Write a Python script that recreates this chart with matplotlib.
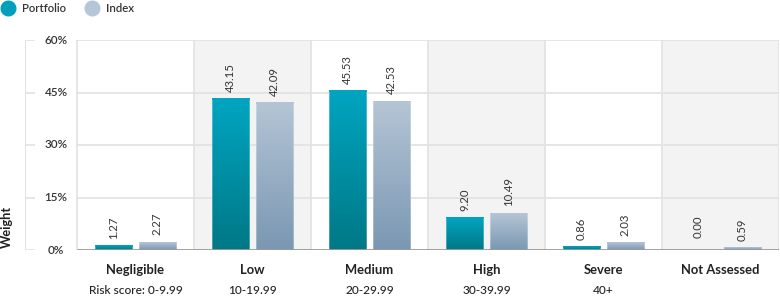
import numpy as np
import matplotlib
matplotlib.use("Agg")
import matplotlib.pyplot as plt
from matplotlib.colors import LinearSegmentedColormap
from matplotlib.lines import Line2D
from matplotlib.transforms import blended_transform_factory

plt.rcParams['font.family'] = ['Lato', 'DejaVu Sans']

categories = ["Negligible", "Low", "Medium", "High", "Severe", "Not Assessed"]
score_ranges = ["Risk score: 0-9.99", "10-19.99", "20-29.99", "30-39.99", "40+", ""]
portfolio = [1.27, 43.15, 45.53, 9.20, 0.86, 0.00]
index_w = [2.27, 42.09, 42.53, 10.49, 2.03, 0.59]
y_ticks = [0, 15, 30, 45, 60]

W, H = 780, 300
fig = plt.figure(figsize=(W / 100, H / 100), dpi=100)
ax = fig.add_axes([25 / W, 50 / H, 754 / W, 210 / H])

band_px = 117.0
x_left = -0.5 - 52 / band_px
ax.set_xlim(x_left, 5.5)
ax.set_ylim(0, 60)
ax.axis("off")

grid_c = "#e2e2e2"
# shaded bands
for i in range(len(categories)):
    if i % 2 == 1:
        ax.axvspan(i - 0.5, i + 0.5, color="#f3f3f3", lw=0, zorder=0)
# band separators + left border
for i in range(len(categories) + 1):
    ax.vlines(i - 0.5, 0, 60, color=grid_c, lw=1.2, zorder=0.5)
ax.vlines(x_left + 0.004, 0, 60, color=grid_c, lw=1.5, zorder=0.5)

# gridlines with gap for labels
gap_l = -0.5 - 42 / band_px
gap_r = -0.5 - 1 / band_px
lab_x = -0.5 - 21 / band_px
for v in y_ticks:
    ax.hlines(v, x_left, gap_l, color=grid_c, lw=1.2, zorder=0.5)
    if v > 0:
        ax.hlines(v, gap_r, 5.5, color=grid_c, lw=1.2, zorder=0.5)
    ax.text(lab_x, v, f"{v}%", ha="center", va="center", fontsize=8.4,
            color="#333333", fontweight="semibold")
ax.hlines(0, -0.5, 5.5, color="#9a9a9a", lw=2, zorder=5)

# bars with vertical gradient
cm_port = LinearSegmentedColormap.from_list("p", ["#007886", "#00a5c1"])
cm_idx = LinearSegmentedColormap.from_list("i", ["#7a97b3", "#b5c5d5"])
grad = np.linspace(0, 1, 256).reshape(-1, 1)
x = np.arange(len(categories))
bw, off = 0.322, 0.187
for vals, cm, dx in [(portfolio, cm_port, -off), (index_w, cm_idx, off)]:
    bars = ax.bar(x + dx, vals, width=bw, color="none", edgecolor="none", zorder=2)
    for b, v in zip(bars, vals):
        bx, bwid, bh = b.get_x(), b.get_width(), b.get_height()
        if v > 0:
            ax.imshow(grad, extent=[bx, bx + bwid, 0, bh], origin="lower",
                      aspect="auto", cmap=cm, zorder=2, interpolation="bilinear")
            ax.vlines([bx, bx + bwid], 0, bh, color="white", lw=0.5, alpha=0.4, zorder=3)
        ax.annotate(f"{v:.2f}", (bx + bwid / 2, bh), xytext=(0, 5 if v > 0 else 8.5),
                    textcoords="offset points", rotation=90, ha="center",
                    va="bottom", fontsize=8.2, color="#333333")
ax.set_xlim(x_left, 5.5)
ax.set_ylim(0, 60)

# category labels
tr = blended_transform_factory(ax.transData, ax.transAxes)
for i, (c, s) in enumerate(zip(categories, score_ranges)):
    ax.text(i, -20 / 210, c, transform=tr, ha="center", va="center",
            fontsize=9.4, fontweight="bold", color="#222222")
    ax.text(i, -40 / 210, s, transform=tr, ha="center", va="center",
            fontsize=8.6, color="#222222", fontweight="medium")

fig.text(7 / W, 1 - 248 / H, "Weight", rotation=90, ha="center", va="bottom",
         fontsize=9.2, fontweight="bold", color="#222222")

# legend
for px, col, lab in [(8, "#00a0bc", "Portfolio"), (92, "#b4c6d8", "Index")]:
    fig.add_artist(Line2D([px / W], [1 - 8 / H], marker="o", ms=10.5, color=col,
                          lw=0, transform=fig.transFigure))
    fig.text((px + 14) / W, 1 - 8 / H, lab, ha="left", va="center",
             fontsize=8.2, color="#333333", fontweight="semibold")

fig.savefig("out.png", dpi=100)
